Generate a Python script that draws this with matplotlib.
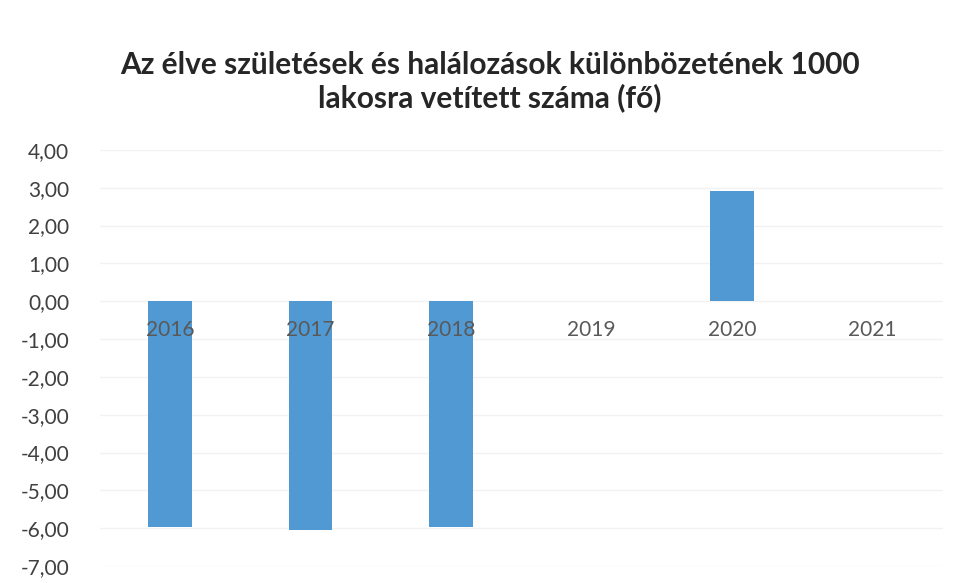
import numpy as np
import matplotlib.pyplot as plt

years = ['2016', '2017', '2018', '2019', '2020', '2021']
values = [-5.98, -6.05, -5.96, 0.0, 2.90, 0.0]
yticks = np.arange(-7, 5, 1)

plt.rcParams['font.family'] = ['Lato', 'DejaVu Sans']

fig = plt.figure(figsize=(9.6, 5.83), dpi=100)
ax = fig.add_axes([0.104, 0.029, 0.878, 0.714])

x = np.arange(len(years))
ax.bar(x, values, width=0.31, color='#5199d2', zorder=2)

ax.set_xlim(-0.5, len(years) - 0.5)
ax.set_ylim(-7, 4)
ax.set_yticks(yticks)
ax.set_yticklabels([f"{v:.2f}".replace('.', ',') for v in yticks],
                   fontsize=15, color='#404040')
ax.tick_params(axis='y', length=0, pad=22)
ax.set_xticks([])
ax.yaxis.grid(True, color='#f2f2f2', linewidth=1, zorder=0)
for s in ax.spines.values():
    s.set_visible(False)

# category labels sit just below the zero line, over the bars
for xi, yr in zip(x, years):
    ax.text(xi, -0.75, yr, ha='center', va='center', fontsize=15,
            color='#595959', zorder=3)

fig.text(0.51, 0.860,
         'Az élve születések és halálozások különbözetének 1000\nlakosra vetített száma (fő)',
         ha='center', va='center', fontsize=21.5, fontweight='bold',
         color='#262626', linespacing=1.2)

fig.savefig('out.png', dpi=100)
